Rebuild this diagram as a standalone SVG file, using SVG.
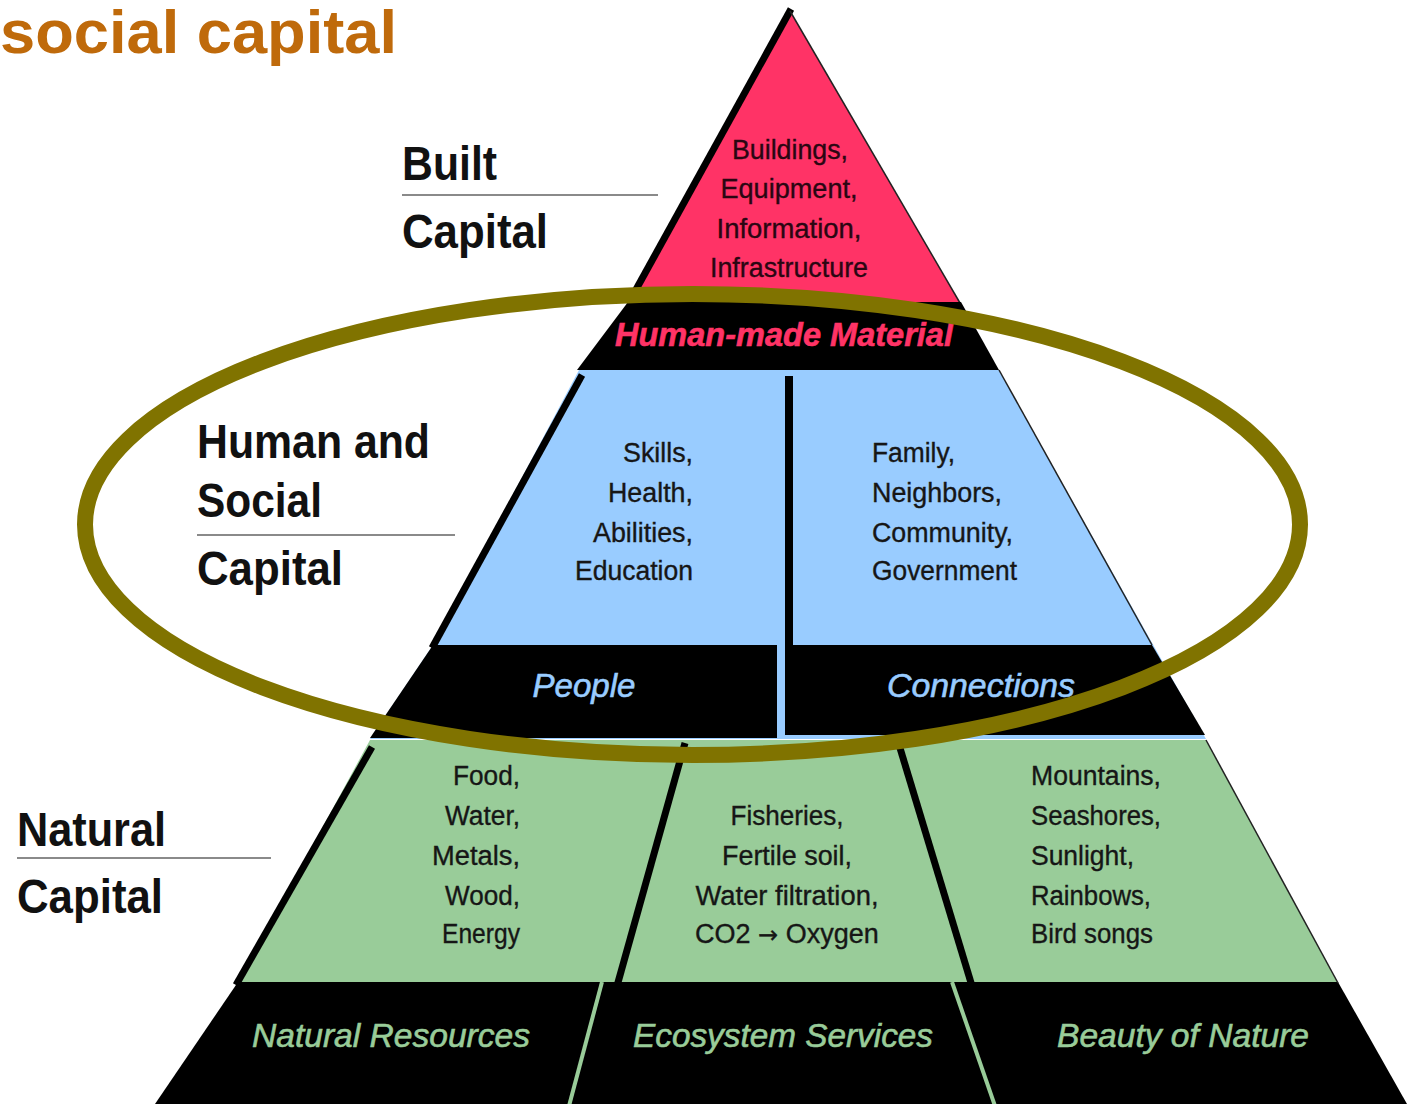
<svg xmlns="http://www.w3.org/2000/svg" width="1412" height="1104" viewBox="0 0 1412 1104">
  <style>
    text { font-family: "Liberation Sans", Arial, sans-serif; }
    .title { font-size: 62px; font-weight: bold; fill: #bf6a0b; }
    .side { font-size: 48px; font-weight: bold; fill: #111; }
    .item { font-size: 27px; fill: #161616; stroke: #161616; stroke-width: 0.35; }
    .item-pink { font-size: 27px; fill: #2a0612; stroke: #2a0612; stroke-width: 0.35; }
    .band { font-size: 33px; font-style: italic; stroke-width: 0.6; }
    .arrow { font-family: "DejaVu Sans", sans-serif; font-size: 24px; }
    .rule { stroke: #8a8a8a; stroke-width: 2; }
    .edge-thick { stroke: #000; stroke-width: 7; stroke-linecap: butt; }
    .edge-thin { stroke: #222; stroke-width: 1.5; }
    .gap { stroke: #99cc99; stroke-width: 4; }
  </style>

  <rect width="1412" height="1104" fill="#ffffff"/>

  <!-- heading -->
  <g id="title">
    <text class="title" x="0" y="53" textLength="397" lengthAdjust="spacingAndGlyphs">social capital</text>
  </g>

  <!-- side labels -->
  <g id="label-built">
    <text class="side" x="402" y="180" textLength="95" lengthAdjust="spacingAndGlyphs">Built</text>
    <line class="rule" x1="402" y1="195" x2="658" y2="195"/>
    <text class="side" x="402" y="248" textLength="146" lengthAdjust="spacingAndGlyphs">Capital</text>
  </g>
  <g id="label-human-social">
    <text class="side" x="197" y="458" textLength="233" lengthAdjust="spacingAndGlyphs">Human and</text>
    <text class="side" x="197" y="517" textLength="125" lengthAdjust="spacingAndGlyphs">Social</text>
    <line class="rule" x1="197" y1="535" x2="455" y2="535"/>
    <text class="side" x="197" y="585" textLength="146" lengthAdjust="spacingAndGlyphs">Capital</text>
  </g>
  <g id="label-natural">
    <text class="side" x="17" y="846" textLength="149" lengthAdjust="spacingAndGlyphs">Natural</text>
    <line class="rule" x1="17" y1="858" x2="271" y2="858"/>
    <text class="side" x="17" y="913" textLength="146" lengthAdjust="spacingAndGlyphs">Capital</text>
  </g>

  <!-- top tier: built capital -->
  <g id="tier-built">
    <polygon points="790,11 960,303 631,303" fill="#ff3366"/>
    <line class="edge-thick" x1="791" y1="9" x2="628" y2="304" stroke-width="6"/>
    <line class="edge-thin" x1="790" y1="11" x2="960" y2="303"/>
    <polygon points="628,302 961,302 999,370 577,370" fill="#000"/>
    <text class="item-pink" text-anchor="middle" x="790" y="159" textLength="116" lengthAdjust="spacingAndGlyphs">Buildings,</text>
    <text class="item-pink" text-anchor="middle" x="789" y="198" textLength="137" lengthAdjust="spacingAndGlyphs">Equipment,</text>
    <text class="item-pink" text-anchor="middle" x="789" y="238" textLength="145" lengthAdjust="spacingAndGlyphs">Information,</text>
    <text class="item-pink" text-anchor="middle" x="789" y="277" textLength="158" lengthAdjust="spacingAndGlyphs">Infrastructure</text>
    <text class="band" fill="#ff3366" stroke="#ff3366" font-weight="bold" text-anchor="middle" x="784" y="346" textLength="338" lengthAdjust="spacingAndGlyphs">Human-made Material</text>
  </g>

  <!-- middle tier: human and social capital -->
  <g id="tier-human">
    <polygon points="579,370 999,370 1206,739 370,739 433,645" fill="#99ccff"/>
    <line class="edge-thick" x1="582" y1="375" x2="432" y2="648"/>
    <line class="edge-thin" x1="999" y1="370" x2="1152" y2="645"/>
    <g id="people">
      <polygon points="433,645 777,645 777,738 370,738" fill="#000"/>
      <text class="item" text-anchor="end" x="693" y="462" textLength="70" lengthAdjust="spacingAndGlyphs">Skills,</text>
      <text class="item" text-anchor="end" x="693" y="502" textLength="85" lengthAdjust="spacingAndGlyphs">Health,</text>
      <text class="item" text-anchor="end" x="693" y="542" textLength="100" lengthAdjust="spacingAndGlyphs">Abilities,</text>
      <text class="item" text-anchor="end" x="693" y="580" textLength="118" lengthAdjust="spacingAndGlyphs">Education</text>
      <text class="band" fill="#99ccff" stroke="#99ccff" text-anchor="middle" x="584" y="697" textLength="103" lengthAdjust="spacingAndGlyphs">People</text>
    </g>
    <g id="connections">
      <rect x="785" y="376" width="8" height="270" fill="#000"/>
      <polygon points="785,645 1152,645 1205,735 785,735" fill="#000"/>
      <text class="item" x="872" y="462" textLength="83" lengthAdjust="spacingAndGlyphs">Family,</text>
      <text class="item" x="872" y="502" textLength="130" lengthAdjust="spacingAndGlyphs">Neighbors,</text>
      <text class="item" x="872" y="542" textLength="141" lengthAdjust="spacingAndGlyphs">Community,</text>
      <text class="item" x="872" y="580" textLength="145" lengthAdjust="spacingAndGlyphs">Government</text>
      <text class="band" fill="#99ccff" stroke="#99ccff" text-anchor="middle" x="981" y="697" textLength="188" lengthAdjust="spacingAndGlyphs">Connections</text>
    </g>
  </g>

  <!-- bottom tier: natural capital -->
  <g id="tier-natural">
    <polygon points="370,740 1206,740 1338,983 238,983" fill="#99cc99"/>
    <polygon points="238,982 1338,982 1407,1104 155,1104" fill="#000"/>
    <line class="edge-thick" x1="372" y1="747" x2="236" y2="985"/>
    <line class="edge-thin" x1="1206" y1="740" x2="1338" y2="983"/>
    <g id="natural-resources">
      <text class="item" text-anchor="end" x="520" y="785" textLength="67" lengthAdjust="spacingAndGlyphs">Food,</text>
      <text class="item" text-anchor="end" x="520" y="825" textLength="75" lengthAdjust="spacingAndGlyphs">Water,</text>
      <text class="item" text-anchor="end" x="520" y="865" textLength="88" lengthAdjust="spacingAndGlyphs">Metals,</text>
      <text class="item" text-anchor="end" x="520" y="905" textLength="75" lengthAdjust="spacingAndGlyphs">Wood,</text>
      <text class="item" text-anchor="end" x="520" y="943" textLength="78" lengthAdjust="spacingAndGlyphs">Energy</text>
      <text class="band" fill="#99cc99" stroke="#99cc99" x="252" y="1047" textLength="278" lengthAdjust="spacingAndGlyphs">Natural Resources</text>
    </g>
    <g id="ecosystem-services">
      <text class="item" text-anchor="middle" x="787" y="825" textLength="113" lengthAdjust="spacingAndGlyphs">Fisheries,</text>
      <text class="item" text-anchor="middle" x="787" y="865" textLength="130" lengthAdjust="spacingAndGlyphs">Fertile soil,</text>
      <text class="item" text-anchor="middle" x="787" y="905" textLength="183" lengthAdjust="spacingAndGlyphs">Water filtration,</text>
      <text class="item" x="695" y="943">CO2 <tspan class="arrow">→</tspan> Oxygen</text>
      <text class="band" fill="#99cc99" stroke="#99cc99" text-anchor="middle" x="783" y="1047" textLength="300" lengthAdjust="spacingAndGlyphs">Ecosystem Services</text>
    </g>
    <g id="beauty-of-nature">
      <text class="item" x="1031" y="785" textLength="130" lengthAdjust="spacingAndGlyphs">Mountains,</text>
      <text class="item" x="1031" y="825" textLength="130" lengthAdjust="spacingAndGlyphs">Seashores,</text>
      <text class="item" x="1031" y="865" textLength="103" lengthAdjust="spacingAndGlyphs">Sunlight,</text>
      <text class="item" x="1031" y="905" textLength="120" lengthAdjust="spacingAndGlyphs">Rainbows,</text>
      <text class="item" x="1031" y="943" textLength="122" lengthAdjust="spacingAndGlyphs">Bird songs</text>
      <text class="band" fill="#99cc99" stroke="#99cc99" x="1057" y="1047" textLength="252" lengthAdjust="spacingAndGlyphs">Beauty of Nature</text>
    </g>
  </g>

  <!-- dividers between the natural-capital sections -->
  <g id="connectors">
    <line class="edge-thick" x1="685" y1="743" x2="617" y2="986"/>
    <line class="edge-thick" x1="900" y1="748" x2="972" y2="986"/>
    <line class="gap" x1="602" y1="982" x2="569" y2="1106"/>
    <line class="gap" x1="952" y1="982" x2="995" y2="1106"/>
  </g>

  <!-- highlight ring around the human and social tier -->
  <g id="highlight">
    <ellipse cx="692.5" cy="524.5" rx="607.5" ry="230.5" fill="none" stroke="#807300" stroke-width="16"/>
  </g>
</svg>
